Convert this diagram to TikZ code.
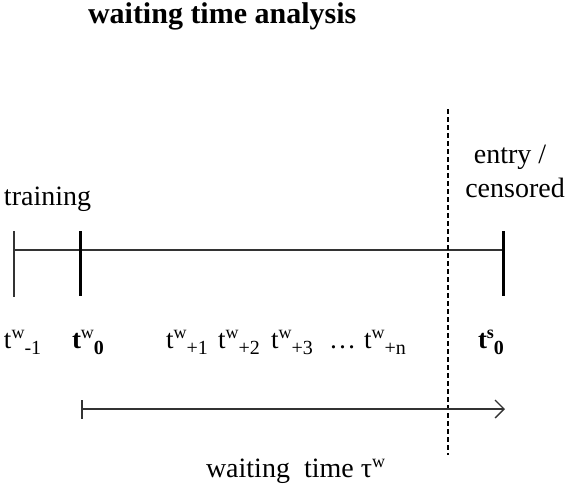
\documentclass[tikz,border=0pt]{standalone}
\usepackage{fontspec}
\setmainfont{Liberation Serif}
\usetikzlibrary{arrows.meta}
\tikzset{
  lbl/.style={anchor=base west, inner sep=0pt, outer sep=0pt, font=\fontsize{28}{34}\selectfont},
  tlbl/.style={anchor=base west, inner sep=0pt, outer sep=0pt, font=\fontsize{27}{32}\selectfont},
  thinline/.style={line width=1.3pt, draw=black!80},
  thicktick/.style={line width=3pt, draw=black},
  dashline/.style={line width=1.2pt, draw=black, dash pattern=on 5pt off 3pt},
}
\newcommand{\supx}[1]{\raisebox{10pt}{\fontsize{18}{18}\selectfont #1}}
\newcommand{\subx}[1]{\raisebox{-6pt}{\fontsize{20}{20}\selectfont #1}}
\newcommand{\tlab}[3]{#1\supx{#2}\subx{#3}}
\begin{document}
\begin{tikzpicture}[x=1pt,y=-1pt]
\useasboundingbox (0,0) rectangle (568,483);
% title
\node[lbl, font=\fontsize{30}{36}\selectfont\bfseries] (title) at (88,23) {waiting time analysis};
% labels above
\node[lbl] (training) at (4,205) {training};
\node[lbl, anchor=base] (entry) at (510,163) {entry /};
\node[lbl, anchor=base] (cens) at (515,197) {censored};
% timeline
\coordinate (L) at (14,250);
\coordinate (Z) at (80,250);
\coordinate (R) at (503,250);
\draw[thinline] (L) -- (R);
\draw[thinline] (14,231) -- (14,297);
\draw[thicktick] (80,231) -- (80,296);
\draw[thicktick] (503,231) -- (503,296);
% dashed vertical
\coordinate (D1) at (448,109);
\coordinate (D2) at (448,455);
\draw[dashline] (D1) -- (D2);
% time labels
\node[tlbl] (tm1) at (4,348) {\tlab{t}{w}{-1}};
\node[tlbl] (t0) at (72,348) {\tlab{\textbf{t}}{w}{\textbf{0}}};
\node[tlbl] (t1) at (166,348) {\tlab{t}{w}{+1}};
\node[tlbl] (t2) at (218,348) {\tlab{t}{w}{+2}};
\node[tlbl] (t3) at (271,348) {\tlab{t}{w}{+3}};
\node[tlbl] (dots) at (329,348) {…};
\node[tlbl] (tn) at (364,348) {\tlab{t}{w}{+n}};
\node[tlbl] (ts0) at (478,348) {\tlab{\textbf{t}}{\textbf{s}}{\textbf{0}}};
% waiting time arrow
\coordinate (A1) at (81,409);
\coordinate (A2) at (505,409);
\draw[thinline, {Bar[width=19pt,line width=2pt]}-{Straight Barb[length=9pt,width=18pt,line width=1.3pt]}] (A1) -- (A2);
\node[lbl] (wt) at (206,477) {waiting\ \ time τ\supx{w}};
\end{tikzpicture}
\end{document}
